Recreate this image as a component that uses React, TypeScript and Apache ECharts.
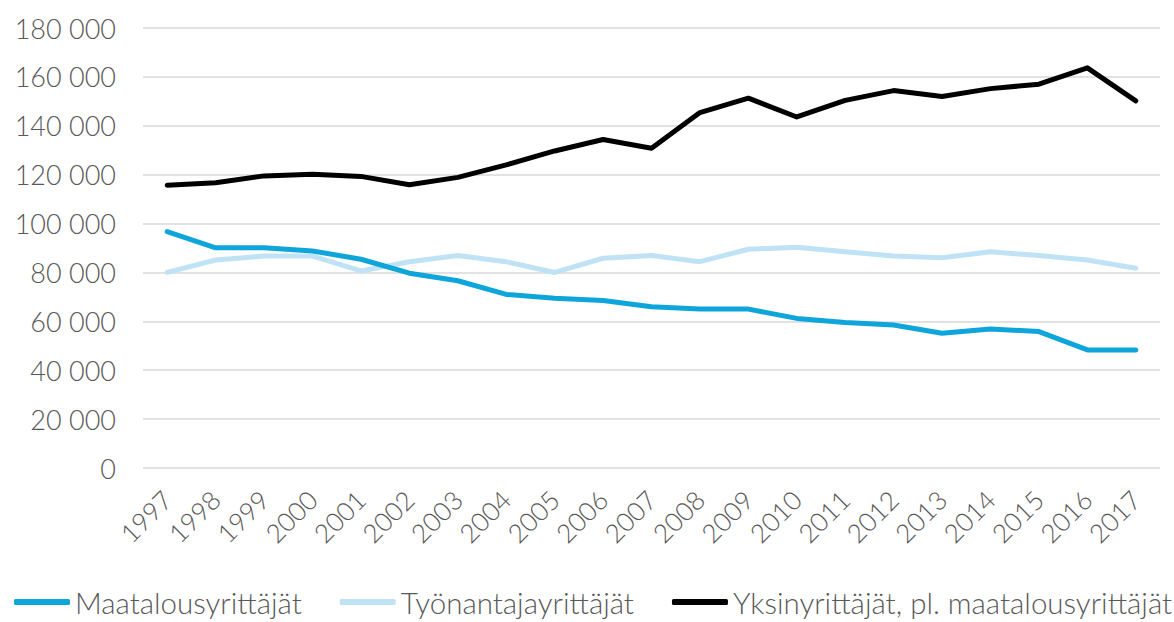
import React, { useEffect, useRef } from "react";
import * as echarts from "echarts";

const years = ["1997","1998","1999","2000","2001","2002","2003","2004","2005","2006","2007","2008","2009","2010","2011","2012","2013","2014","2015","2016","2017"];
const maatalous = [96700, 90100, 90100, 88800, 85400, 79700, 76600, 71000, 69400, 68500, 66000, 65000, 65000, 61200, 59500, 58500, 55100, 56900, 55800, 48300, 48300];
const tyonantaja = [80000, 85100, 86700, 86700, 80600, 84400, 86900, 84400, 80000, 85800, 86900, 84400, 89500, 90300, 88500, 86700, 86000, 88500, 86900, 85100, 81700];
const yksin = [115700, 116700, 119500, 120200, 119300, 115900, 118900, 124000, 129700, 134400, 130800, 145400, 151300, 143600, 150400, 154400, 152000, 155200, 157000, 163700, 150200];
const seriesNames = ["Maatalousyrittäjät", "Työnantajayrittäjät", "Yksinyrittäjät, pl. maatalousyrittäjät"];
const colors = ["#0ea5db", "#bfe3f4", "#000000"];

const FONT = "Lato, 'Liberation Sans', sans-serif";

export default function App() {
  const ref = useRef<HTMLDivElement>(null);
  useEffect(() => {
    if (!ref.current) return;
    const chart = echarts.init(ref.current, undefined, { renderer: "svg" });
    const datasets = [maatalous, tyonantaja, yksin];
    chart.setOption({
      animation: false,
      color: colors,
      grid: { left: 143, right: 14, top: 28, bottom: 154, containLabel: false },
      legend: {
        left: 9,
        bottom: 0,
        width: 1400,
        icon: "roundRect",
        itemWidth: 56,
        itemHeight: 6,
        itemGap: 38,
        textStyle: { fontFamily: FONT, fontSize: 29.5, color: "#595959", fontWeight: 300 },
        data: seriesNames,
      },
      xAxis: {
        type: "category",
        data: years,
        boundaryGap: true,
        axisLine: { show: false },
        axisTick: { show: false },
        axisLabel: {
          rotate: 45,
          interval: 0,
          margin: 27,
          fontFamily: FONT,
          fontSize: 26,
          fontWeight: 300,
          color: "#595959",
        },
      },
      yAxis: {
        type: "value",
        min: 0,
        max: 180000,
        interval: 20000,
        axisLine: { show: false },
        axisTick: { show: false },
        splitLine: { lineStyle: { color: "#d9d9d9", width: 1.5 } },
        axisLabel: {
          margin: 27,
          fontFamily: FONT,
          fontSize: 27,
          fontWeight: 300,
          color: "#595959",
          formatter: (v: number) => String(v).replace(/\B(?=(\d{3})+(?!\d))/g, " "),
        },
      },
      series: datasets.map((d, i) => ({
        name: seriesNames[i],
        type: "line",
        data: d,
        symbol: "none",
        lineStyle: { width: 5, color: colors[i], cap: "round", join: "round" },
        z: i === 2 ? 3 : i === 0 ? 2 : 1,
      })),
    });
    return () => chart.dispose();
  }, []);
  return <div ref={ref} style={{ width: 1174, height: 622, position: "absolute", left: 0, top: 0 }} />;
}
